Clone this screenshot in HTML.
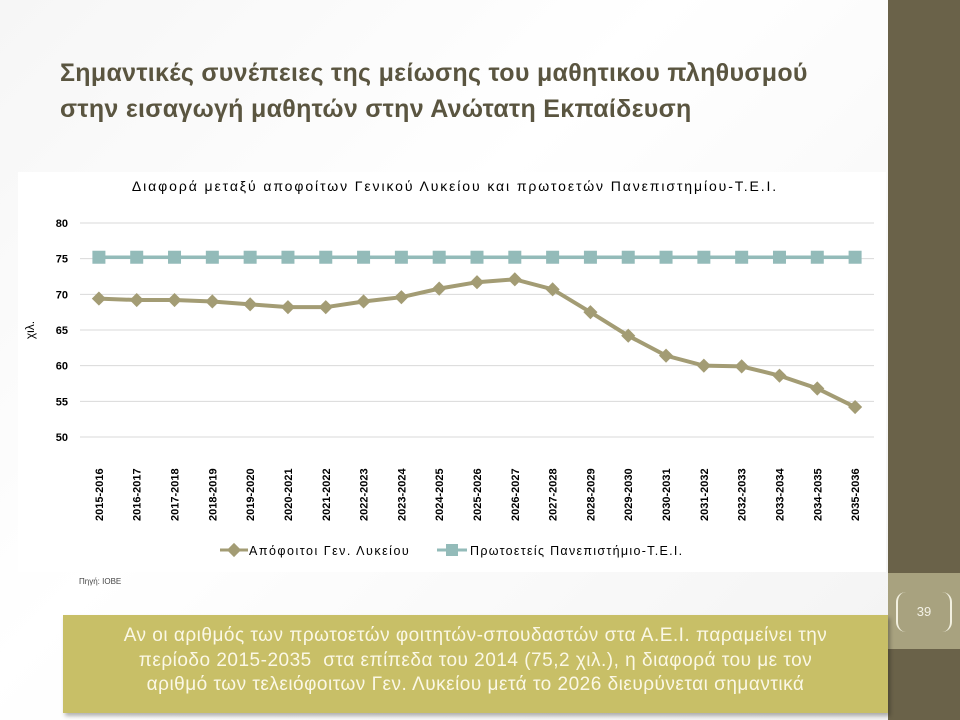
<!DOCTYPE html>
<html><head><meta charset="utf-8"><style>
body{margin:0;width:960px;height:720px;overflow:hidden;font-family:"Liberation Sans","DejaVu Sans",sans-serif;background:linear-gradient(135deg,#f6f6f6,#ffffff 40%,#f2f2f2);position:relative}
.abs{position:absolute}
</style></head><body>
<div class="abs" style="left:888px;top:0;width:72px;height:720px;background:#6a6249"></div>
<div class="abs" style="left:888px;top:573px;width:72px;height:76px;background:#a8a27f"></div>
<div class="abs" style="left:896px;top:592px;width:56px;height:40px;border-left:2px solid #f2f0e0;border-right:2px solid #f2f0e0;border-radius:10px;box-sizing:border-box;color:#f4f2e6;font-size:13px;text-align:center;line-height:40px">39</div>
<div class="abs" style="left:60px;top:55px;width:820px;color:#5a5540;font-weight:bold;font-size:25px;line-height:36px;letter-spacing:0.3px">Σημαντικές συνέπειες της μείωσης του μαθητικου πληθυσμού<br>στην εισαγωγή μαθητών στην Ανώτατη Εκπαίδευση</div>
<div class="abs" style="left:18px;top:172px;width:868px;height:400px;background:#fff"></div>
<svg class="abs" style="left:0;top:0" width="960" height="720">
<text x="455" y="191" text-anchor="middle" font-size="14" letter-spacing="1.9">Διαφορά μεταξύ αποφοίτων Γενικού Λυκείου και πρωτοετών Πανεπιστημίου-Τ.Ε.Ι.</text>
<g id="grid"></g><g id="ylab"></g><g id="xlab"></g><g id="series"></g>
<text transform="translate(34,330) rotate(-90)" text-anchor="middle" font-size="12">χιλ.</text>
<g>
<line x1="220" y1="550" x2="248" y2="550" stroke="#a39c74" stroke-width="3"/>
<rect x="229" y="545" width="10" height="10" fill="#a39c74" transform="rotate(45 234 550)"/>
<text x="249" y="555" font-size="12.5" letter-spacing="1.5">Απόφοιτοι Γεν. Λυκείου</text>
<line x1="437" y1="550" x2="467" y2="550" stroke="#93bbb9" stroke-width="3"/>
<rect x="446" y="544" width="12" height="12" fill="#93bbb9"/>
<text x="470" y="555" font-size="12.5" letter-spacing="1.3">Πρωτοετείς Πανεπιστήμιο-Τ.Ε.Ι.</text>
</g>
<text x="79" y="584" font-size="8" fill="#444">Πηγή: ΙΟΒΕ</text>
</svg>
<div class="abs" style="left:63px;top:615px;width:825px;height:98px;background:#c8bf67;box-shadow:2px 3px 4px rgba(0,0,0,0.3);color:#fbf8e6;font-size:19px;letter-spacing:0.5px;line-height:24.5px;text-align:center;padding-top:9px;box-sizing:border-box;white-space:nowrap">Αν οι αριθμός των πρωτοετών φοιτητών-σπουδαστών στα Α.Ε.Ι. παραμείνει την<br>περίοδο 2015-2035 &nbsp;στα επίπεδα του 2014 (75,2 χιλ.), η διαφορά του με τον<br>αριθμό των τελειόφοιτων Γεν. Λυκείου μετά το 2026 διευρύνεται σημαντικά</div>
<script>
const categories=["2015-2016","2016-2017","2017-2018","2018-2019","2019-2020","2020-2021","2021-2022","2022-2023","2023-2024","2024-2025","2025-2026","2026-2027","2027-2028","2028-2029","2029-2030","2030-2031","2031-2032","2032-2033","2033-2034","2034-2035","2035-2036"];
const graduates=[69.4,69.2,69.2,69.0,68.6,68.2,68.2,69.0,69.6,70.8,71.7,72.1,70.7,67.5,64.2,61.4,60.0,59.9,58.6,56.8,54.2];
const freshmen=[75.2,75.2,75.2,75.2,75.2,75.2,75.2,75.2,75.2,75.2,75.2,75.2,75.2,75.2,75.2,75.2,75.2,75.2,75.2,75.2,75.2];
const yTicks=[50,55,60,65,70,75,80];
const NS="http://www.w3.org/2000/svg";
const x0=80,x1=874,yMin=50,yMax=80,py0=437,py1=223;
function xs(i){return x0+(x1-x0)*(i+0.5)/categories.length;}
function ys(v){return py0-(v-yMin)/(yMax-yMin)*(py0-py1);}
function mk(t,a,p){const e=document.createElementNS(NS,t);for(const k in a)e.setAttribute(k,a[k]);p.appendChild(e);return e;}
const grid=document.getElementById('grid'),yl=document.getElementById('ylab'),xl=document.getElementById('xlab'),sr=document.getElementById('series');
yTicks.forEach(v=>{const l=mk('line',{x1:x0,x2:x1,y1:ys(v),y2:ys(v),stroke:'#d9d9d9','stroke-width':1},grid);


const t=mk('text',{x:68,y:ys(v)+4,'text-anchor':'end','font-size':11,'font-weight':'bold'},yl);t.textContent=v;

});
categories.forEach((c,i)=>{const t=mk('text',{transform:`translate(${xs(i)+4},521) rotate(-90)`,'font-size':11,'font-weight':'bold'},xl);t.textContent=c;

});
const p1=mk('polyline',{points:freshmen.map((v,i)=>xs(i)+','+ys(v)).join(' '),fill:'none',stroke:'#93bbb9','stroke-width':3.5},sr);


freshmen.forEach((v,i)=>{const r=mk('rect',{x:xs(i)-6.5,y:ys(v)-6.5,width:13,height:13,fill:'#93bbb9'},sr);

});
const p2=mk('polyline',{points:graduates.map((v,i)=>xs(i)+','+ys(v)).join(' '),fill:'none',stroke:'#a39c74','stroke-width':4},sr);


graduates.forEach((v,i)=>{const r=mk('rect',{x:xs(i)-5,y:ys(v)-5,width:10,height:10,fill:'#a39c74',transform:`rotate(45 ${xs(i)} ${ys(v)})`},sr);

});
</script>
</body></html>
